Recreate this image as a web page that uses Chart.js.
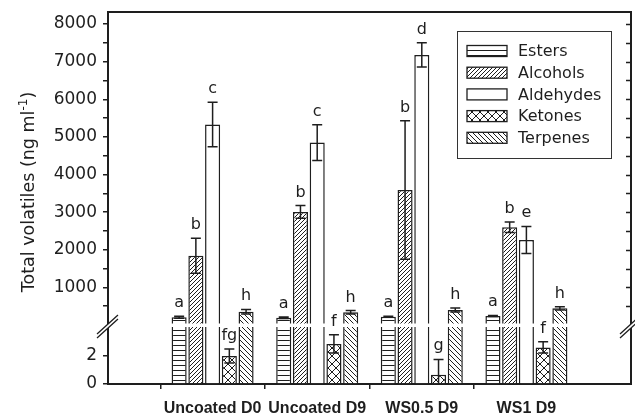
<!DOCTYPE html>
<html>
<head>
<meta charset="utf-8">
<script src="https://cdn.jsdelivr.net/npm/chart.js@4.4.1/dist/chart.umd.min.js"></script>
<style>
  html, body { margin: 0; padding: 0; background: #fff; }
  #wrap { width: 635px; height: 415px; }
</style>
</head>
<body>
<div id="wrap"><canvas id="chart" width="635" height="415"></canvas></div>
<script>
const categories = ["Uncoated D0", "Uncoated D9", "WS0.5 D9", "WS1 D9"];
const seriesNames = ["Esters", "Alcohols", "Aldehydes", "Ketones", "Terpenes"];

// mean values (ng ml-1)
const esters    = [205, 190, 220, 239];
const alcohols  = [1840, 3005, 3590, 2600];
const aldehydes = [5330, 4850, 7180, 2260];
const ketones   = [2.0, 2.85, 0.65, 2.6];
const terpenes  = [355, 338, 400, 444];

// error bars
const estersErr    = [25, 20, 15, 15];
const alcoholsErr  = [465, 170, 1840, 140];
const aldehydesErr = [590, 475, 320, 360];
const ketonesErr   = [0.5, 0.65, 1.1, 0.4];
const terpenesErr  = [60, 45, 55, 43];

// significance letters
const estersLetters    = ["a", "a", "a", "a"];
const alcoholsLetters  = ["b", "b", "b", "b"];
const aldehydesLetters = ["c", "c", "d", "e"];
const ketonesLetters   = ["fg", "f", "g", "f"];
const terpenesLetters  = ["h", "h", "h", "h"];

// broken axis: upper part in ng ml-1, lower part zoomed
const upperTicks = [500, 1000, 1500, 2000, 2500, 3000, 3500, 4000, 4500, 5000, 5500, 6000, 6500, 7000, 7500, 8000];
const upperTickLabels = [1000, 2000, 3000, 4000, 5000, 6000, 7000, 8000];
const lowerTicks = [0, 2];
const upperMax = 8320;
const lowerMax = 4.2;

const values  = [esters, alcohols, aldehydes, ketones, terpenes];
const errors  = [estersErr, alcoholsErr, aldehydesErr, ketonesErr, terpenesErr];
const letters = [estersLetters, alcoholsLetters, aldehydesLetters, ketonesLetters, terpenesLetters];

const INK = "#1e1e1e";
Chart.defaults.font.family = "'DejaVu Sans', sans-serif";
Chart.defaults.color = INK;

function makePattern(kind) {
  const s = kind === "cross" ? 8 : kind === "hline" ? 5 : kind === "fwd" ? 4 : 5;
  const c = document.createElement("canvas");
  c.width = s; c.height = s;
  const g = c.getContext("2d");
  g.fillStyle = "#fff";
  g.fillRect(0, 0, s, s);
  g.strokeStyle = INK;
  g.lineWidth = 1;
  g.beginPath();
  if (kind === "hline") {
    g.moveTo(0, 0.5); g.lineTo(s, 0.5);
  }
  if (kind === "fwd" || kind === "cross") {
    g.moveTo(0, s); g.lineTo(s, 0);
    g.moveTo(-1, 1); g.lineTo(1, -1);
    g.moveTo(s - 1, s + 1); g.lineTo(s + 1, s - 1);
  }
  if (kind === "back" || kind === "cross") {
    g.moveTo(0, 0); g.lineTo(s, s);
    g.moveTo(-1, s - 1); g.lineTo(1, s + 1);
    g.moveTo(s - 1, -1); g.lineTo(s + 1, 1);
  }
  g.stroke();
  return g.createPattern(c, "repeat");
}

const fills = [makePattern("hline"), makePattern("fwd"), "#fff", makePattern("cross"), makePattern("back")];

const labels = ["", ...categories, ""];
const pad = arr => [null, ...arr, null];

const datasets = [];
seriesNames.forEach((name, i) => {
  datasets.push({
    label: name,
    data: pad(values[i].map(v => v > lowerMax ? v : null)),
    yAxisID: "yHigh",
    stack: name,
    backgroundColor: fills[i],
    borderColor: INK,
    borderWidth: 1.5
  });
});
seriesNames.forEach((name, i) => {
  datasets.push({
    label: name + " low",
    data: pad(values[i].map(v => Math.min(v, lowerMax))),
    yAxisID: "yLow",
    stack: name,
    backgroundColor: fills[i],
    borderColor: INK,
    borderWidth: 1.5
  });
});

const decor = {
  id: "decor",
  afterDatasetsDraw(chart) {
    const { ctx, chartArea: a, scales } = chart;
    const hi = scales.yHigh, lo = scales.yLow;

    // gap at the axis break
    ctx.save();
    ctx.fillStyle = "#fff";
    ctx.fillRect(a.left + 1, hi.bottom - 1.5, a.right - a.left - 2, 3.5);
    ctx.restore();

    // error bars + letters
    ctx.save();
    ctx.strokeStyle = INK;
    ctx.lineWidth = 1.5;
    ctx.fillStyle = INK;
    ctx.font = "16px 'DejaVu Sans'";
    ctx.textAlign = "center";
    ctx.textBaseline = "alphabetic";
    values.forEach((arr, s) => {
      arr.forEach((v, c) => {
        const upper = v > lowerMax;
        const sc = upper ? hi : lo;
        const meta = chart.getDatasetMeta(upper ? s : s + 5);
        const x = meta.data[c + 1].x;
        const e = errors[s][c];
        const yTop = sc.getPixelForValue(Math.min(v + e, sc.max));
        const yBot = sc.getPixelForValue(Math.max(v - e, sc.min));
        ctx.beginPath();
        ctx.moveTo(x, yTop); ctx.lineTo(x, yBot);
        ctx.moveTo(x - 5, yTop); ctx.lineTo(x + 5, yTop);
        if (v - e > sc.min) { ctx.moveTo(x - 5, yBot); ctx.lineTo(x + 5, yBot); }
        ctx.stroke();
        ctx.fillText(letters[s][c], x, yTop - 9);
      });
    });
    ctx.restore();
  },
  afterDraw(chart) {
    const { ctx, chartArea: a, scales } = chart;
    const hi = scales.yHigh;
    ctx.save();
    ctx.strokeStyle = INK;
    // top and right frame
    ctx.lineWidth = 2;
    ctx.beginPath();
    ctx.moveTo(a.left - 1, a.top); ctx.lineTo(a.right, a.top); ctx.lineTo(a.right, a.bottom + 1);
    ctx.stroke();
    // inward ticks on right frame
    ctx.lineWidth = 1.5;
    ctx.beginPath();
    hi.ticks.forEach(t => {
      const y = Math.round(hi.getPixelForValue(t.value)) + 0.5;
      ctx.moveTo(a.right - 5, y); ctx.lineTo(a.right, y);
    });
    ctx.stroke();

    // break marks
    const by = hi.bottom + 1;
    [a.left, a.right].forEach(bx => {
      ctx.fillStyle = "#fff";
      ctx.beginPath();
      ctx.moveTo(bx - 11, by + 8); ctx.lineTo(bx + 10, by - 11);
      ctx.lineTo(bx + 10, by - 7); ctx.lineTo(bx - 11, by + 12);
      ctx.closePath();
      ctx.fill();
      ctx.lineWidth = 1.3;
      ctx.beginPath();
      ctx.moveTo(bx - 11, by + 8); ctx.lineTo(bx + 10, by - 11);
      ctx.moveTo(bx - 11, by + 12); ctx.lineTo(bx + 10, by - 7);
      ctx.stroke();
    });

    // legend
    const lx = 457, ly = 31, lw = 154, lh = 127;
    ctx.lineWidth = 1;
    ctx.strokeStyle = "#333";
    ctx.strokeRect(lx + 0.5, ly + 0.5, lw, lh);
    ctx.font = "16px 'DejaVu Sans'";
    ctx.textAlign = "left";
    ctx.textBaseline = "middle";
    seriesNames.forEach((name, i) => {
      const cy = ly + 20 + i * 21.7;
      ctx.fillStyle = chart.data.datasets[i].backgroundColor;
      ctx.fillRect(467, cy - 5.5, 40, 11);
      ctx.strokeStyle = INK;
      ctx.lineWidth = 1.3;
      ctx.strokeRect(467, cy - 5.5, 40, 11);
      ctx.fillStyle = INK;
      ctx.fillText(name, 518, cy + 1);
    });

    // y title with superscript
    ctx.translate(28, 192);
    ctx.rotate(-Math.PI / 2);
    const main = "Total volatiles (ng ml";
    const sup = "-1";
    const end = ")";
    ctx.font = "17.5px 'DejaVu Sans'";
    const w1 = ctx.measureText(main).width;
    const w3 = ctx.measureText(end).width;
    ctx.font = "12px 'DejaVu Sans'";
    const w2 = ctx.measureText(sup).width;
    let x0 = -(w1 + w2 + w3) / 2;
    ctx.fillStyle = INK;
    ctx.textBaseline = "alphabetic";
    ctx.font = "17.5px 'DejaVu Sans'";
    ctx.fillText(main, x0, 6);
    ctx.font = "12px 'DejaVu Sans'";
    ctx.fillText(sup, x0 + w1, -1);
    ctx.font = "17.5px 'DejaVu Sans'";
    ctx.fillText(end, x0 + w1 + w2, 6);
    ctx.restore();
  }
};

const yTickFont = { family: "'DejaVu Sans'", size: 17 };
const fitY = s => { s.width = 108; s.paddingTop = 0; s.paddingBottom = 0; };

new Chart(document.getElementById("chart"), {
  type: "bar",
  data: { labels, datasets },
  options: {
    responsive: false,
    animation: false,
    layout: { padding: { top: 12, right: 4, left: 0, bottom: 0 } },
    datasets: { bar: { categoryPercentage: 0.8, barPercentage: 0.9 } },
    plugins: { legend: { display: false }, tooltip: { enabled: false } },
    scales: {
      x: {
        type: "category",
        offset: false,
        grid: {
          drawOnChartArea: false,
          tickLength: 5,
          lineWidth: 1.5,
          color: c => (c.index === 0 || c.index === labels.length - 1) ? "rgba(0,0,0,0)" : INK
        },
        border: { width: 2, color: INK },
        ticks: {
          autoSkip: false, maxRotation: 0, minRotation: 0, padding: 10, color: INK,
          font: { family: "'Liberation Sans', Arial, sans-serif", size: 16, weight: "bold" }
        },
        afterFit: s => { s.height = 31; s.paddingLeft = 0; s.paddingRight = 0; }
      },
      yLow: {
        type: "linear", position: "left", stack: "v", stackWeight: 59, weight: 1,
        min: 0, max: lowerMax, stacked: false,
        grid: { drawOnChartArea: false, tickLength: 5, lineWidth: 1.5, color: INK },
        border: { width: 2, color: INK },
        ticks: { autoSkip: false, padding: 6, color: INK, font: yTickFont, callback: v => String(v) },
        afterBuildTicks: s => { s.ticks = lowerTicks.map(v => ({ value: v })); },
        afterFit: fitY
      },
      yHigh: {
        type: "linear", position: "left", stack: "v", stackWeight: 313, weight: 2,
        min: 0, max: upperMax, stacked: false,
        grid: { drawOnChartArea: false, tickLength: 5, lineWidth: 1.5, color: INK },
        border: { width: 2, color: INK },
        ticks: {
          autoSkip: false, padding: 6, color: INK, font: yTickFont,
          callback: v => upperTickLabels.includes(v) ? String(v) : ""
        },
        afterBuildTicks: s => { s.ticks = upperTicks.map(v => ({ value: v })); },
        afterFit: fitY
      }
    }
  },
  plugins: [decor]
});
</script>
</body>
</html>
